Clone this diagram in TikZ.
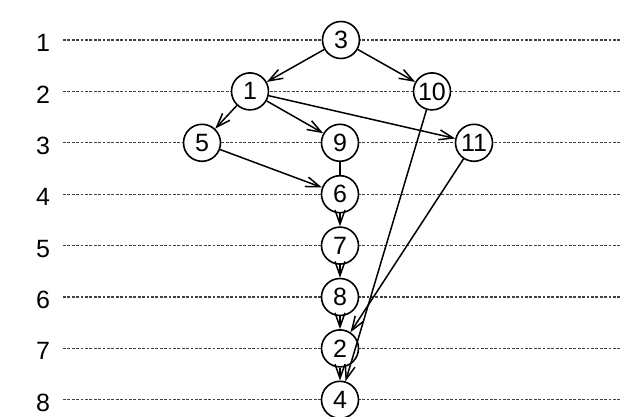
\documentclass[tikz,border=0pt]{standalone}
\usepackage{fontspec}
\setmainfont{Liberation Sans}
\usetikzlibrary{arrows.meta}

\begin{document}
\begin{tikzpicture}[x=0.5pt,y=-0.5pt,>={Straight Barb[length=7pt,width=5pt]},
                    font=\fontsize{12.5}{14}\selectfont,
                    task/.style={circle,draw,fill=white,line width=0.8pt,minimum size=18.5pt,inner sep=0pt},
                    levelrow/.style={black!75,line width=0.6pt,dash pattern=on 1.4pt off 0.8pt},
                    edge/.style={->,line width=0.75pt},
                    plain/.style={line width=0.75pt}]
  \useasboundingbox (0,0) rectangle (629,417);

  % 层号与虚线
  \foreach \i in {1,...,8} {
    \pgfmathsetmacro{\ly}{40+(\i-1)*51.4}
    \node (lv\i) at (43,\ly+3) {\i};
    \coordinate (le\i) at (620,\ly);
    \draw[levelrow] (63,\ly) -- (le\i);
  }

  % 任务结点
  \node[task] (t3)  at (341,40)    {3};
  \node[task] (t1)  at (250,91.4)  {1};
  \node[task] (t10) at (432,91.4)  {10};
  \node[task] (t5)  at (202,142.8) {5};
  \node[task] (t9)  at (340,142.8) {9};
  \node[task] (t11) at (474,142.8) {11};
  \node[task] (t6)  at (340,194.2) {6};
  \node[task] (t7)  at (340,245.6) {7};
  \node[task] (t8)  at (340,297)   {8};
  \node[task] (t2)  at (340,348.4) {2};
  \node[task] (t4)  at (340,399.8) {4};

  % 依赖关系
  \draw[edge] (t3) -- (t1);
  \draw[edge] (t3) -- (t10);
  \draw[edge] (t1) -- (t5);
  \draw[edge] (t1) -- (t9);
  \draw[edge] (t1) -- (t11);
  \draw[edge] (t5) -- (t6);
  \draw[plain] (t9) -- (t6);
  \draw[edge] (t6) -- (t7);
  \draw[edge] (t7) -- (t8);
  \draw[edge] (t8) -- (t2);
  \draw[edge] (t2) -- (t4);
  \draw[edge] (t10) -- (t4);
  \draw[edge] (t11) -- (t2);
\end{tikzpicture}
\end{document}
